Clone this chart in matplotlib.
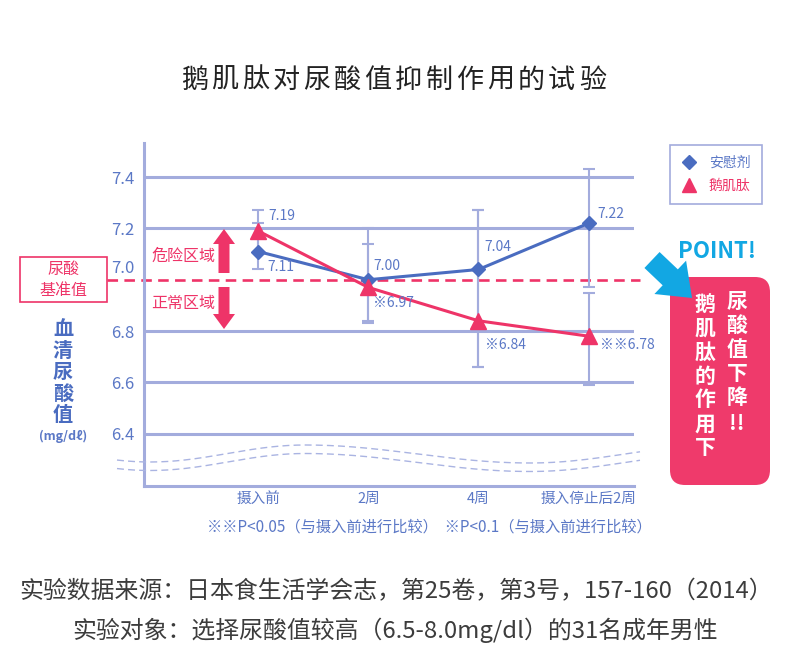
import numpy as np
import matplotlib.pyplot as plt
from matplotlib.lines import Line2D
from matplotlib.patches import FancyArrow, FancyBboxPatch, Rectangle
from matplotlib.transforms import ScaledTranslation

plt.rcParams['font.family'] = ['Noto Sans CJK SC', 'DejaVu Sans']

# data
stages = ['摄入前', '2周', '4周', '摄入停止后2周']
placebo = [7.11, 7.00, 7.04, 7.22]
anserine = [7.19, 6.97, 6.84, 6.78]
placebo_labels = ['7.11', '7.00', '7.04', '7.22']
anserine_labels = ['7.19', '※6.97', '※6.84', '※※6.78']
# error bar ranges (low, high)
placebo_err_lo = [7.04, 6.84, 6.66, 6.97]
placebo_err_hi = [7.22, 7.14, 7.27, 7.43]
anserine_err_lo = [7.11, 6.83, 6.66, 6.59]
anserine_err_hi = [7.27, 7.20, 7.27, 6.95]
yticks = [6.4, 6.6, 6.8, 7.0, 7.2, 7.4]
baseline = 7.0

BLUE = '#4a6cc0'
TXT_BLUE = '#5b78c6'
PINK = '#ee3468'
GRID = '#a3acdd'
CYAN = '#12a7e3'

fig = plt.figure(figsize=(7.9, 6.67), dpi=100)
ax = fig.add_axes([144.3 / 790, 1 - 486 / 667, 489.2 / 790, 343 / 667])
ax.set_xlim(-1.035, 3.408)
ax.set_ylim(6.196, 7.533)

for s in ['top', 'right']:
    ax.spines[s].set_visible(False)
for s in ['left', 'bottom']:
    ax.spines[s].set_color(GRID)
    ax.spines[s].set_linewidth(2.2)

for v in yticks:
    if v != baseline:
        ax.axhline(v, color=GRID, lw=2.2, zorder=1)
ax.hlines(baseline, -1.374, 3.467, colors=PINK, lw=1.9, linestyles=(0, (4, 2.4)),
          clip_on=False, zorder=2)

ax.set_yticks(yticks, [f'{v:.1f}' for v in yticks])
ax.set_xticks(range(len(stages)), stages)
ax.tick_params(axis='y', length=0, pad=7, labelsize=12, labelcolor=TXT_BLUE)
ax.tick_params(axis='x', length=0, pad=4, labelsize=10.5, labelcolor=TXT_BLUE)
for lab in ax.get_yticklabels():
    if lab.get_text() == '7.0':
        lab.set_transform(lab.get_transform() + ScaledTranslation(0, 0.13, fig.dpi_scale_trans))

x = np.arange(len(stages))
pl = np.array(placebo)
an = np.array(anserine)
ax.errorbar(x, pl, yerr=[pl - np.array(placebo_err_lo), np.array(placebo_err_hi) - pl],
            fmt='none', ecolor=GRID, elinewidth=1.5, capsize=4.5, capthick=1.5, zorder=2)
ax.errorbar(x, an, yerr=[an - np.array(anserine_err_lo), np.array(anserine_err_hi) - an],
            fmt='none', ecolor=GRID, elinewidth=1.5, capsize=4.5, capthick=1.5, zorder=2)

ax.plot(x, placebo, color=BLUE, lw=2.2, marker='D', ms=7, zorder=4)
ax.plot(x, anserine, color=PINK, lw=2.2, marker='^', ms=11, zorder=5)

pl_off = [(6.5, -11.5), (3.6, 10), (4.3, 16.5), (6.5, 6.5)]
an_off = [(7.2, 11), (3.6, -11), (5, -17.5), (8, -6)]
for i in range(len(stages)):
    ax.annotate(placebo_labels[i], (x[i], placebo[i]), xytext=pl_off[i], textcoords='offset points',
                ha='left', va='center', fontsize=10, color=TXT_BLUE, zorder=6)
    ax.annotate(anserine_labels[i], (x[i], anserine[i]), xytext=an_off[i], textcoords='offset points',
                ha='left', va='center', fontsize=10, color=TXT_BLUE, zorder=6)

handles = [Line2D([], [], marker='D', ls='none', color=BLUE, ms=7),
           Line2D([], [], marker='^', ls='none', color=PINK, ms=10)]
leg = ax.legend(handles, ['安慰剂', '鹅肌肽'], loc='upper left',
                bbox_to_anchor=(670 / 790, 1 - 145 / 667), bbox_transform=fig.transFigure,
                frameon=True, fancybox=False, edgecolor=GRID, framealpha=1,
                prop={'size': 10}, borderpad=0.8, handlelength=1.2, handletextpad=0.8,
                labelspacing=0.6, borderaxespad=0)
leg.get_frame().set_linewidth(1.2)
for t, c in zip(leg.get_texts(), [TXT_BLUE, PINK]):
    t.set_color(c)

# overlay in pixel coordinates for decorations
ov = fig.add_axes([0, 0, 1, 1])
ov.set_xlim(0, 790)
ov.set_ylim(667, 0)
ov.axis('off')

title = '鹅肌肽对尿酸值抑制作用的试验'
for i, ch in enumerate(title):
    ov.text(194.5 + i * 30.6, 80, ch, ha='center', va='center', fontsize=19.5, color='#222222')

# break mark waves
wx = [0, 150, 305, 530, 720]
wy = [445, 462, 445, 463, 445]
xs = np.linspace(117, 640, 300)
ys = np.empty_like(xs)
for k in range(len(wx) - 1):
    m = (xs >= wx[k]) & (xs <= wx[k + 1])
    t = (xs[m] - wx[k]) / (wx[k + 1] - wx[k])
    ys[m] = wy[k] + (wy[k + 1] - wy[k]) * (1 - np.cos(np.pi * t)) / 2
for dy in [0, 8.5]:
    ov.plot(xs, ys + dy, color='#aab4e2', lw=1.0, ls=(0, (5, 3)))

# baseline box
ov.add_patch(Rectangle((20, 257), 87, 45, fill=True, fc='white', ec=PINK, lw=1.2))
ov.text(63, 269, '尿酸', ha='center', va='center', fontsize=11.5, color=PINK)
ov.text(63, 290, '基准值', ha='center', va='center', fontsize=11.5, color=PINK)

# danger / normal zone arrows
ov.add_patch(FancyArrow(224, 273, 0, -44, width=11, head_width=22, head_length=15,
                        length_includes_head=True, color=PINK, lw=0))
ov.add_patch(FancyArrow(224, 287, 0, 42, width=11, head_width=22, head_length=15,
                        length_includes_head=True, color=PINK, lw=0))
ov.text(183, 256, '危险区域', ha='center', va='center', fontsize=11.5, color=PINK)
ov.text(183, 303, '正常区域', ha='center', va='center', fontsize=11.5, color=PINK)

# y axis label
for i, ch in enumerate('血清尿酸值'):
    ov.text(63, 329 + i * 21.3, ch, ha='center', va='center', fontsize=14.5,
            fontweight='bold', color=BLUE)
ov.text(63, 436, '(mg/dℓ)', ha='center', va='center', fontsize=9, fontweight='bold',
        color=TXT_BLUE, family=['Noto Sans CJK SC', 'DejaVu Sans'])

# footnote
ov.text(429, 527, '※※P<0.05（与摄入前进行比较）  ※P<0.1（与摄入前进行比较）',
        ha='center', va='center', fontsize=11, color=TXT_BLUE)

# point box
ov.text(717, 252, 'POINT!', ha='center', va='center', fontsize=16, fontweight='bold', color=CYAN)
ov.add_patch(FancyBboxPatch((670, 277), 100, 208, boxstyle='round,pad=0,rounding_size=15',
                            fc='#ef3a6b', ec='none'))
ov.add_patch(FancyArrow(652, 260, 40, 38, width=22, head_width=46, head_length=30,
                        length_includes_head=True, color=CYAN, lw=0))
for i, ch in enumerate('尿酸值下降'):
    ov.text(737, 301 + i * 24.2, ch, ha='center', va='center', fontsize=15,
            fontweight='bold', color='white')
ov.text(737, 424, '!!', ha='center', va='center', fontsize=15, fontweight='bold', color='white')
for i, ch in enumerate('鹅肌肽的作用下'):
    ov.text(705, 304 + i * 24, ch, ha='center', va='center', fontsize=15,
            fontweight='bold', color='white')

# source notes
ov.text(396, 592, '实验数据来源：日本食生活学会志，第25卷，第3号，157-160（2014）',
        ha='center', va='center', fontsize=17.2, color='#3c3c3c')
ov.text(395, 630, '实验对象：选择尿酸值较高（6.5-8.0mg/dl）的31名成年男性',
        ha='center', va='center', fontsize=17.2, color='#3c3c3c')

fig.savefig('out.png', dpi=100)
